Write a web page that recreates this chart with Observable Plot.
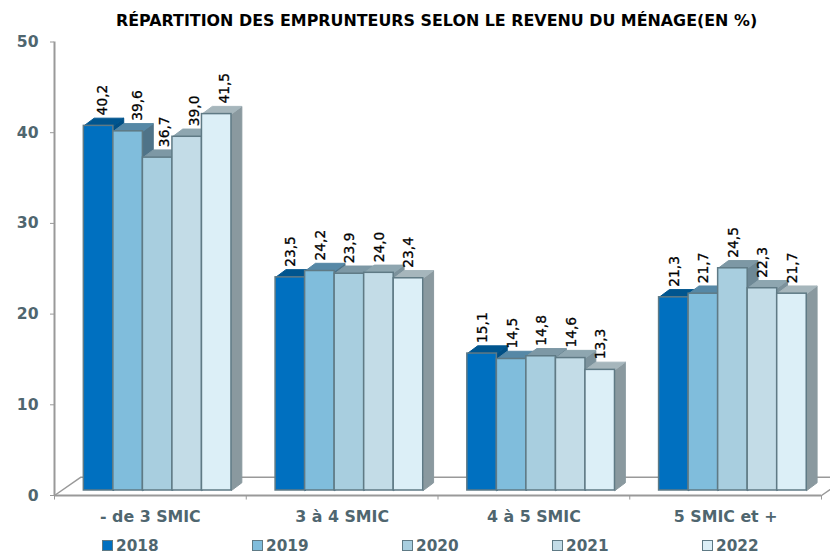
<!DOCTYPE html>
<html><head><meta charset="utf-8">
<script src="https://cdn.jsdelivr.net/npm/d3@7"></script>
<script src="https://cdn.jsdelivr.net/npm/@observablehq/plot@0.6"></script>
<style>
html,body{margin:0;padding:0;background:#fff;width:830px;height:553px;overflow:hidden}
#title{height:32px;padding-left:116px;font:bold 15.9px/42px "DejaVu Sans";color:#000;white-space:nowrap;box-sizing:border-box}
#legend{display:flex;padding-left:102px;height:23px;margin-top:4px;align-items:center;font:bold 15.3px "DejaVu Sans";color:#4f666f}
#legend div{flex:0 0 150px;display:flex;align-items:center}
#legend i{display:block;width:9px;height:9px;border:1px solid #5f7a85;margin-right:3px}
svg{display:block}
</style></head><body>
<div id="title">RÉPARTITION DES EMPRUNTEURS SELON LE REVENU DU MÉNAGE(EN %)</div>
<div id="chart"></div>
<div id="legend"></div>
<script>
const categories = ["- de 3 SMIC", "3 à 4 SMIC", "4 à 5 SMIC", "5 SMIC et +"];
const years = ["2018", "2019", "2020", "2021", "2022"];
const v2018 = [40.2, 23.5, 15.1, 21.3];
const v2019 = [39.6, 24.2, 14.5, 21.7];
const v2020 = [36.7, 23.9, 14.8, 24.5];
const v2021 = [39.0, 24.0, 14.6, 22.3];
const v2022 = [41.5, 23.4, 13.3, 21.7];
const series = [v2018, v2019, v2020, v2021, v2022];
const frontColors = ["#0070c0", "#80bddc", "#a8cedf", "#c3dce7", "#dceff7"];
const topColors = ["#00558f", "#5688a6", "#7d98a5", "#8ea6b0", "#a6b6bc"];
const sideColors = ["#004f85", "#4f7388", "#6d8895", "#7c929c", "#8a999f"];

const edge = "#5f7a85", axisColor = "#999999", textColor = "#4f666f";
const barW = 0.154, start = 0.153, depthX = 0.054, depthY = 0.85, lift = -5;
const firstGroupDx = [4, 9, 7, 7, 8];

const marks = [];
// floor
marks.push(Plot.line([[0,0],[0.136,2],[4.2,2]], {x:d=>d[0], y:d=>d[1], stroke:axisColor, strokeWidth:1.5}));
marks.push(Plot.line([[4,0],[4.136,2]], {x:d=>d[0], y:d=>d[1], stroke:axisColor, strokeWidth:1.5}));
// axes
marks.push(Plot.axisY({ticks:[0,10,20,30,40,50], tickSize:4, tickPadding:12, stroke:axisColor,
  tickFormat:d=>d, fontSize:15.6, fontWeight:"bold", fill:textColor, label:null, textStroke:"none"}));
marks.push(Plot.ruleX([0], {y1:0, y2:50, stroke:axisColor, strokeWidth:2}));
marks.push(Plot.ruleY([0], {x1:0, x2:4, stroke:axisColor, strokeWidth:2}));
marks.push(Plot.ruleX([0,1,2,3,4], {x:d=>d, y1:0, y2:-0.5, stroke:axisColor, strokeWidth:1, clip:false}));
marks.push(Plot.text(categories, {x:(d,i)=>i+0.5, y:()=>0, text:d=>d, dy:21, fontSize:15.8, fontWeight:"bold", fill:textColor}));

// bars, back to front
categories.forEach((c, ci) => {
  series.forEach((s, si) => {
    const v = s[ci];
    const x1 = ci + start + si*barW, x2 = x1 + barW;
    const side = [[x2,0],[x2+depthX,depthY],[x2+depthX,v+depthY],[x2,v],[x2,0]];
    const top = [[x1,v],[x2,v],[x2+depthX,v+depthY],[x1+depthX,v+depthY],[x1,v]];
    marks.push(Plot.line(side, {x:d=>d[0], y:d=>d[1], fill:sideColors[si], stroke:sideColors[si], strokeWidth:1, dy:lift}));
    marks.push(Plot.line(top, {x:d=>d[0], y:d=>d[1], fill:topColors[si], stroke:topColors[si], strokeWidth:1, dy:lift}));
    marks.push(Plot.rect([v], {x1:()=>x1, x2:()=>x2, y1:()=>0, y2:d=>d, fill:frontColors[si], stroke:edge, strokeWidth:1.5, dy:lift}));
  });
});
// value labels
categories.forEach((c, ci) => {
  series.forEach((s, si) => {
    const x = ci + start + (si+0.5)*barW;
    marks.push(Plot.text([s[ci]], {x:()=>x, y:d=>d, text:d=>d.toFixed(1).replace(".", ","), rotate:-90,
      textAnchor:"start", dy:lift-10.5, dx:ci===0?firstGroupDx[si]:0.5, fontSize:13.8, fontFamily:"DejaVu Sans",
      fill:"#000", stroke:"#000", strokeWidth:0.3}));
  });
});

const plot = Plot.plot({
  width:830, height:498, marginTop:9.5, marginBottom:35, marginLeft:54, marginRight:9,
  style:{fontFamily:"DejaVu Sans", background:"#fff", overflow:"hidden"},
  x:{type:"linear", domain:[0,4], axis:null},
  y:{type:"linear", domain:[0,50]},
  marks
});
document.getElementById("chart").append(plot);
const lg = document.getElementById("legend");
years.forEach((y,i)=>{
  const d = document.createElement("div");
  const sw = document.createElement("i"); sw.style.background = frontColors[i];
  d.append(sw, document.createTextNode(y)); lg.append(d);
});
</script></body></html>
